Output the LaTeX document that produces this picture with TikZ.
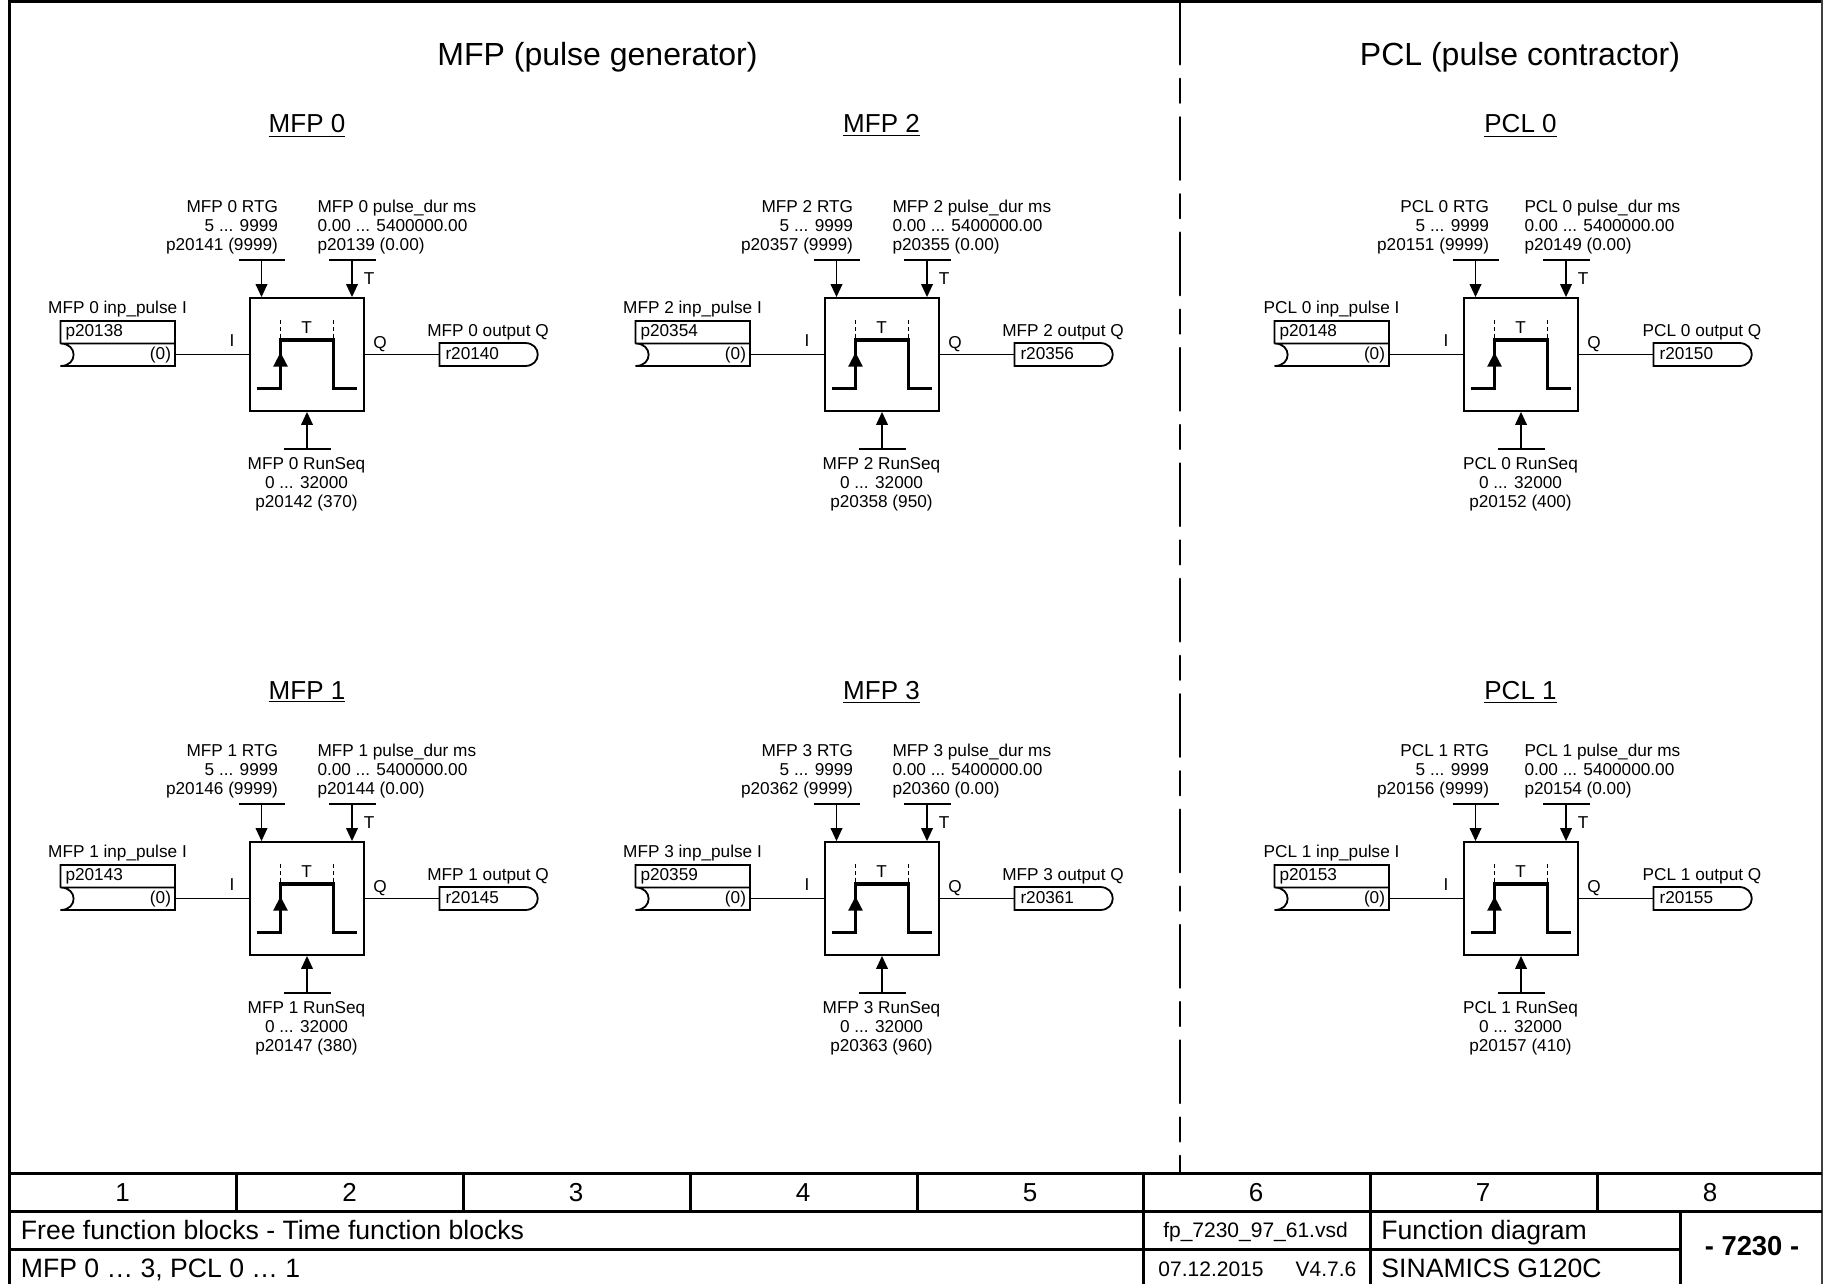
\documentclass[tikz,border=0pt]{standalone}
\usepackage{fontspec}
\setmainfont{Liberation Sans}
\usetikzlibrary{arrows.meta,calc}
\tikzset{
  thin line/.style={line width=0.9pt},
  frame line/.style={line width=1.5pt},
  arrowed/.style={thin line,-{Triangle[length=6.5pt,width=5.8pt]}},
  txt/.style={inner sep=0pt,outer sep=0pt,font=\fontsize{8.6}{9.5}\selectfont},
  txtl/.style={txt,anchor=base west},
  txtr/.style={txt,anchor=base east},
  txtc/.style={txt,anchor=base},
  heading/.style={inner sep=0pt,anchor=base,font=\fontsize{13}{15}\selectfont},
  sectiontitle/.style={inner sep=0pt,anchor=base,font=\fontsize{16}{18}\selectfont},
  tblnum/.style={inner sep=0pt,anchor=base,font=\fontsize{13}{15}\selectfont},
  tbltxt/.style={inner sep=0pt,anchor=base west,font=\fontsize{13.3}{15}\selectfont},
  tblsmall/.style={inner sep=0pt,anchor=base,font=\fontsize{10.5}{12}\selectfont},
  blockbox/.style={draw,thin line,inner sep=0pt,minimum width=57pt,minimum height=56.5pt},
}
% #1 label, #2 dx, #3 dy, #4 input param, #5 dur param, #6 output param, #7 rtg param, #8 runseq param, #9 runseq default
\newcommand{\fblock}[9]{%
\begin{scope}[shift={(#2,#3)}]
  \node[blockbox] (#1 box) at (307,354.5) {};
  % top left input
  \coordinate (#1 rtgL) at (238.5,260);
  \coordinate (#1 rtgR) at (285,260);
  \coordinate (#1 rtgM) at (261.5,260);
  \draw[thin line] (#1 rtgL) -- (#1 rtgR);
  \draw[arrowed] (#1 rtgM) -- (#1 rtgM |- #1 box.north);
  \node[txtr] (#1 rtg1) at (\rtgx,212) {#1 RTG};
  \node[txtr] (#1 rtg2) at (\rtgx,231) {5 ... 9999};
  \node[txtr] (#1 rtg3) at (\rtgx,250) {#7 (9999)};
  % top right input
  \coordinate (#1 durL) at (329,260);
  \coordinate (#1 durR) at (375.5,260);
  \coordinate (#1 durM) at (352,260);
  \draw[thin line] (#1 durL) -- (#1 durR);
  \draw[arrowed] (#1 durM) -- (#1 durM |- #1 box.north);
  \node[txtl] (#1 dur1) at (\durx,212) {#1 pulse\_dur ms};
  \node[txtl] (#1 dur2) at (\durx,231) {0.00 ... 5400000.00};
  \node[txtl] (#1 dur3) at (\durx,250) {#5 (0.00)};
  \node[txtc] (#1 t1) at (369,284) {T};
  % bottom input
  \coordinate (#1 runL) at (284,449);
  \coordinate (#1 runR) at (330.5,449);
  \coordinate (#1 runM) at (307,449);
  \draw[thin line] (#1 runL) -- (#1 runR);
  \draw[arrowed] (#1 runM) -- (#1 box.south);
  \node[txtc] (#1 run1) at (306.5,469) {#1 RunSeq};
  \node[txtc] (#1 run2) at (306.5,488) {0 ... 32000};
  \node[txtc] (#1 run3) at (306.5,507) {#8 (#9)};
  % input field
  \node[txtc] (#1 in0) at (117.5,313) {#1 inp\_pulse I};
  \coordinate (#1 inport) at (175,354.5);
  \draw[thin line] (60.5,343.5) -- (60.5,321) -- (175,321) -- (175,366) -- (60.5,366)
     .. controls (78,366) and (78,343.5) .. (60.5,343.5) -- (175,343.5);
  \node[txtl] (#1 inp) at (65.5,336.5) {#4};
  \node[txtr] (#1 ind) at (171,359.5) {(0)};
  \draw[thin line] (#1 inport) -- (#1 box.west);
  \node[txtc] (#1 ilab) at (232,346.5) {I};
  % output field
  \coordinate (#1 outport) at (439.5,354.5);
  \draw[thin line] (#1 outport) -- (439.5,343) -- (525,343)
     .. controls (542,343) and (542,366) .. (525,366) -- (439.5,366) -- cycle;
  \draw[thin line] (#1 box.east) -- (#1 outport);
  \node[txtl] (#1 outp) at (445.5,359) {#6};
  \node[txtc] (#1 out0) at (488,336) {#1 output Q};
  \node[txtc] (#1 qlab) at (380,348) {Q};
  % pulse symbol
  \draw[line width=1.8pt,line join=miter] (256.5,388.5) -- (280.5,388.5) -- (280.5,340) -- (333.5,340) -- (333.5,388.5) -- (357,388.5);
  \fill (280.5,352.5) -- (287.8,366.5) -- (273.2,366.5) -- cycle;
  \draw[thin line,dash pattern=on 2pt off 1.4pt] (280.5,320) -- (280.5,339);
  \draw[thin line,dash pattern=on 2pt off 1.4pt] (333.5,320) -- (333.5,339);
  \node[txtc] (#1 tsym) at (306.5,333) {T};
\end{scope}}
\begin{document}
\begin{tikzpicture}[x=0.5pt,y=-0.5pt]
\useasboundingbox (0,0) rectangle (1823,1284);
% frame
\draw[frame line] (9,1284) -- (9,1.5) -- (1823,1.5);
\draw[line width=0.8pt,black!75] (1822.2,0) -- (1822.2,1284);
\draw[frame line] (9,1173.5) -- (1822,1173.5);
\draw[frame line] (9,1211.5) -- (1822,1211.5);
\draw[frame line] (9,1249) -- (1680,1249);
\foreach \cx in {236.5,463,690,917,1143,1370.5,1597.5}{
  \draw[frame line] (\cx,1173.5) -- (\cx,1211.5);
}
\foreach \cx in {1143,1370.5,1680}{
  \draw[frame line] (\cx,1211.5) -- (\cx,1284);
}
% divider
\coordinate (divA) at (1180,1.8);
\coordinate (divD) at (1180,1173);
\draw[line width=1.2pt,line cap=round,dash pattern=on 31.3pt off 7.2pt on 12pt off 7.2pt] (divA) -- (divD);
% titles
\node[sectiontitle] (t1) at (597.5,66) {MFP (pulse generator)};
\node[sectiontitle] (t2) at (1520,66) {PCL (pulse contractor)};
\node[heading] (h1) at (307,133) {\underline{MFP 0}};
\node[heading] (h2) at (881.5,133) {\underline{MFP 2}};
\node[heading] (h3) at (1520.5,133) {\underline{PCL 0}};
\node[heading] (h4) at (307,699) {\underline{MFP 1}};
\node[heading] (h5) at (881.5,699) {\underline{MFP 3}};
\node[heading] (h6) at (1520.5,699) {\underline{PCL 1}};
% blocks
\def\rtgx{278}\def\durx{317.5}
\fblock{MFP 0}{0}{0}{p20138}{p20139}{r20140}{p20141}{p20142}{370}
\fblock{MFP 2}{575}{0}{p20354}{p20355}{r20356}{p20357}{p20358}{950}
\fblock{MFP 1}{0}{544}{p20143}{p20144}{r20145}{p20146}{p20147}{380}
\fblock{MFP 3}{575}{544}{p20359}{p20360}{r20361}{p20362}{p20363}{960}
\def\rtgx{275}\def\durx{310.5}
\fblock{PCL 0}{1214}{0}{p20148}{p20149}{r20150}{p20151}{p20152}{400}
\fblock{PCL 1}{1214}{544}{p20153}{p20154}{r20155}{p20156}{p20157}{410}
% table text
\node[tblnum] (n1) at (122.5,1201) {1};
\node[tblnum] (n2) at (349.5,1201) {2};
\node[tblnum] (n3) at (576,1201) {3};
\node[tblnum] (n4) at (803,1201) {4};
\node[tblnum] (n5) at (1030,1201) {5};
\node[tblnum] (n6) at (1256,1201) {6};
\node[tblnum] (n7) at (1483,1201) {7};
\node[tblnum] (n8) at (1710,1201) {8};
\node[tbltxt] (f1) at (20.5,1239) {Free function blocks - Time function blocks};
\node[tbltxt] (f2) at (20.5,1277) {MFP 0 … 3, PCL 0 … 1};
\node[tblsmall] (f3) at (1255.5,1237) {fp\_7230\_97\_61.vsd};
\node[tblsmall] (f4) at (1211,1276) {07.12.2015};
\node[tblsmall] (f5) at (1326,1276) {V4.7.6};
\node[tbltxt] (f6) at (1381,1239) {Function diagram};
\node[tbltxt] (f7) at (1381,1277) {SINAMICS G120C};
\node[inner sep=0pt,anchor=base,font=\fontsize{13.7}{15}\bfseries\selectfont] (f8) at (1752,1255.5) {- 7230 -};
\end{tikzpicture}
\end{document}
